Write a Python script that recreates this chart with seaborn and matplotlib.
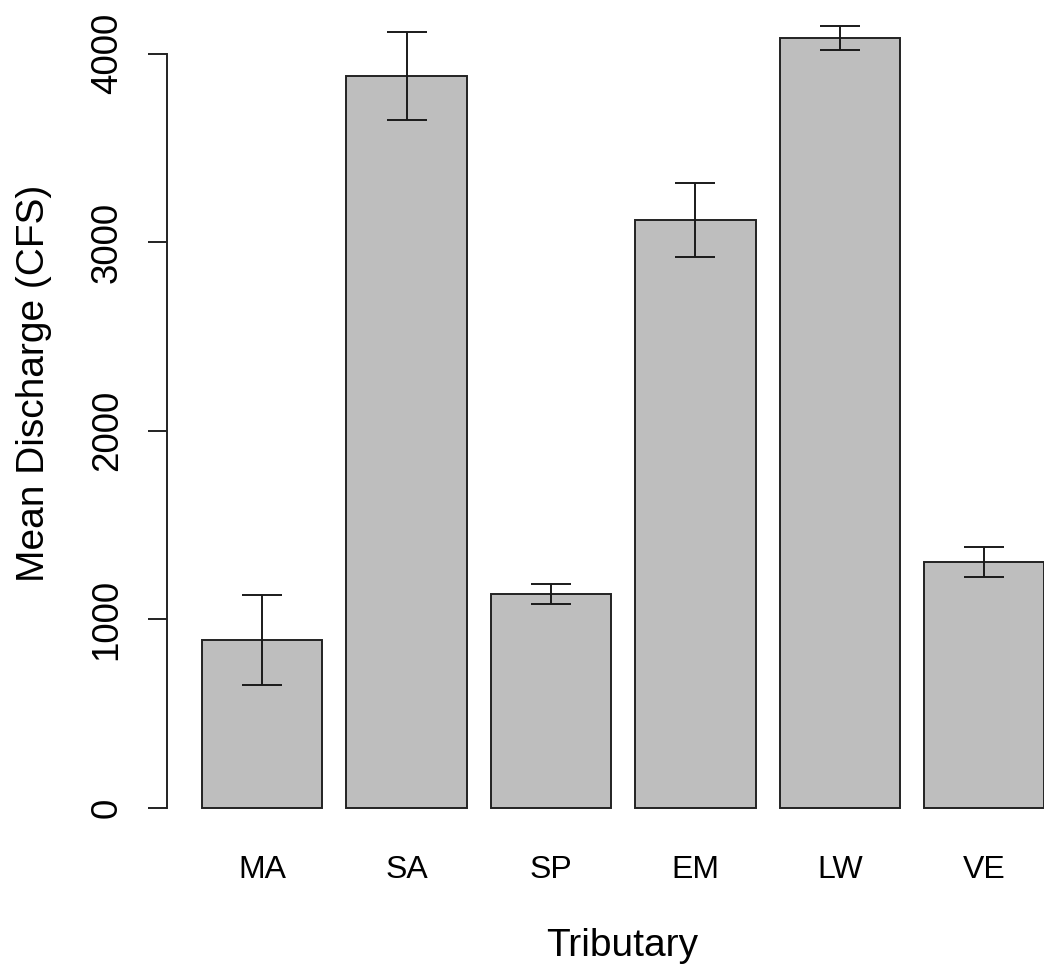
import matplotlib
matplotlib.use("Agg")
import matplotlib.pyplot as plt
import seaborn as sns
import pandas as pd

# Mean discharge per tributary with standard errors
tributaries = ["MA", "SA", "SP", "EM", "LW", "VE"]
mean_discharge = [892, 3881, 1135, 3118, 4083, 1303]
std_error = [238, 233, 53, 196, 64, 80]
y_ticks = [0, 1000, 2000, 3000, 4000]

sns.set_style("white")
plt.rcParams["font.family"] = ["Liberation Sans", "DejaVu Sans"]
plt.rcParams["text.color"] = "black"
plt.rcParams["axes.labelcolor"] = "black"
plt.rcParams["xtick.color"] = "black"
plt.rcParams["ytick.color"] = "black"

df = pd.DataFrame({"Tributary": tributaries, "Discharge": mean_discharge})

fig = plt.figure(figsize=(10.44, 9.66), dpi=100)
ax = fig.add_axes([167 / 1044, (966 - 840) / 966, (1045 - 167) / 1044, (840 - 6) / 966])

sns.barplot(data=df, x="Tributary", y="Discharge", order=tributaries,
            color="#BEBEBE", saturation=1, width=1 / 1.2, errorbar=None,
            edgecolor="#222222", linewidth=1.4, ax=ax)

ax.errorbar(range(len(tributaries)), mean_discharge, yerr=std_error,
            fmt="none", ecolor="#1a1a1a", elinewidth=1.4, capsize=14.5,
            capthick=1.4, clip_on=False)

ax.set_xlim(-0.659, 5.421)
ax.set_ylim(-170, 4253)

for side in ["top", "right", "bottom"]:
    ax.spines[side].set_visible(False)
ax.spines["left"].set_bounds(0, 4000)
ax.spines["left"].set_linewidth(1.4)
ax.spines["left"].set_color("#222222")

ax.set_yticks(y_ticks)
ax.set_yticklabels([str(v) for v in y_ticks], rotation=90, va="center", fontsize=26.5)
ax.tick_params(axis="y", left=True, length=13.5, width=1.4, pad=17, color="#222222")
ax.tick_params(axis="x", bottom=False, length=0, pad=11, labelsize=23)

ax.set_xlabel("Tributary", fontsize=28)
ax.set_ylabel("Mean Discharge (CFS)", fontsize=28)
ax.xaxis.set_label_coords(0.518, -0.105)
ax.yaxis.set_label_coords(-0.131, 0.548)

fig.savefig("out.png", dpi=100)
